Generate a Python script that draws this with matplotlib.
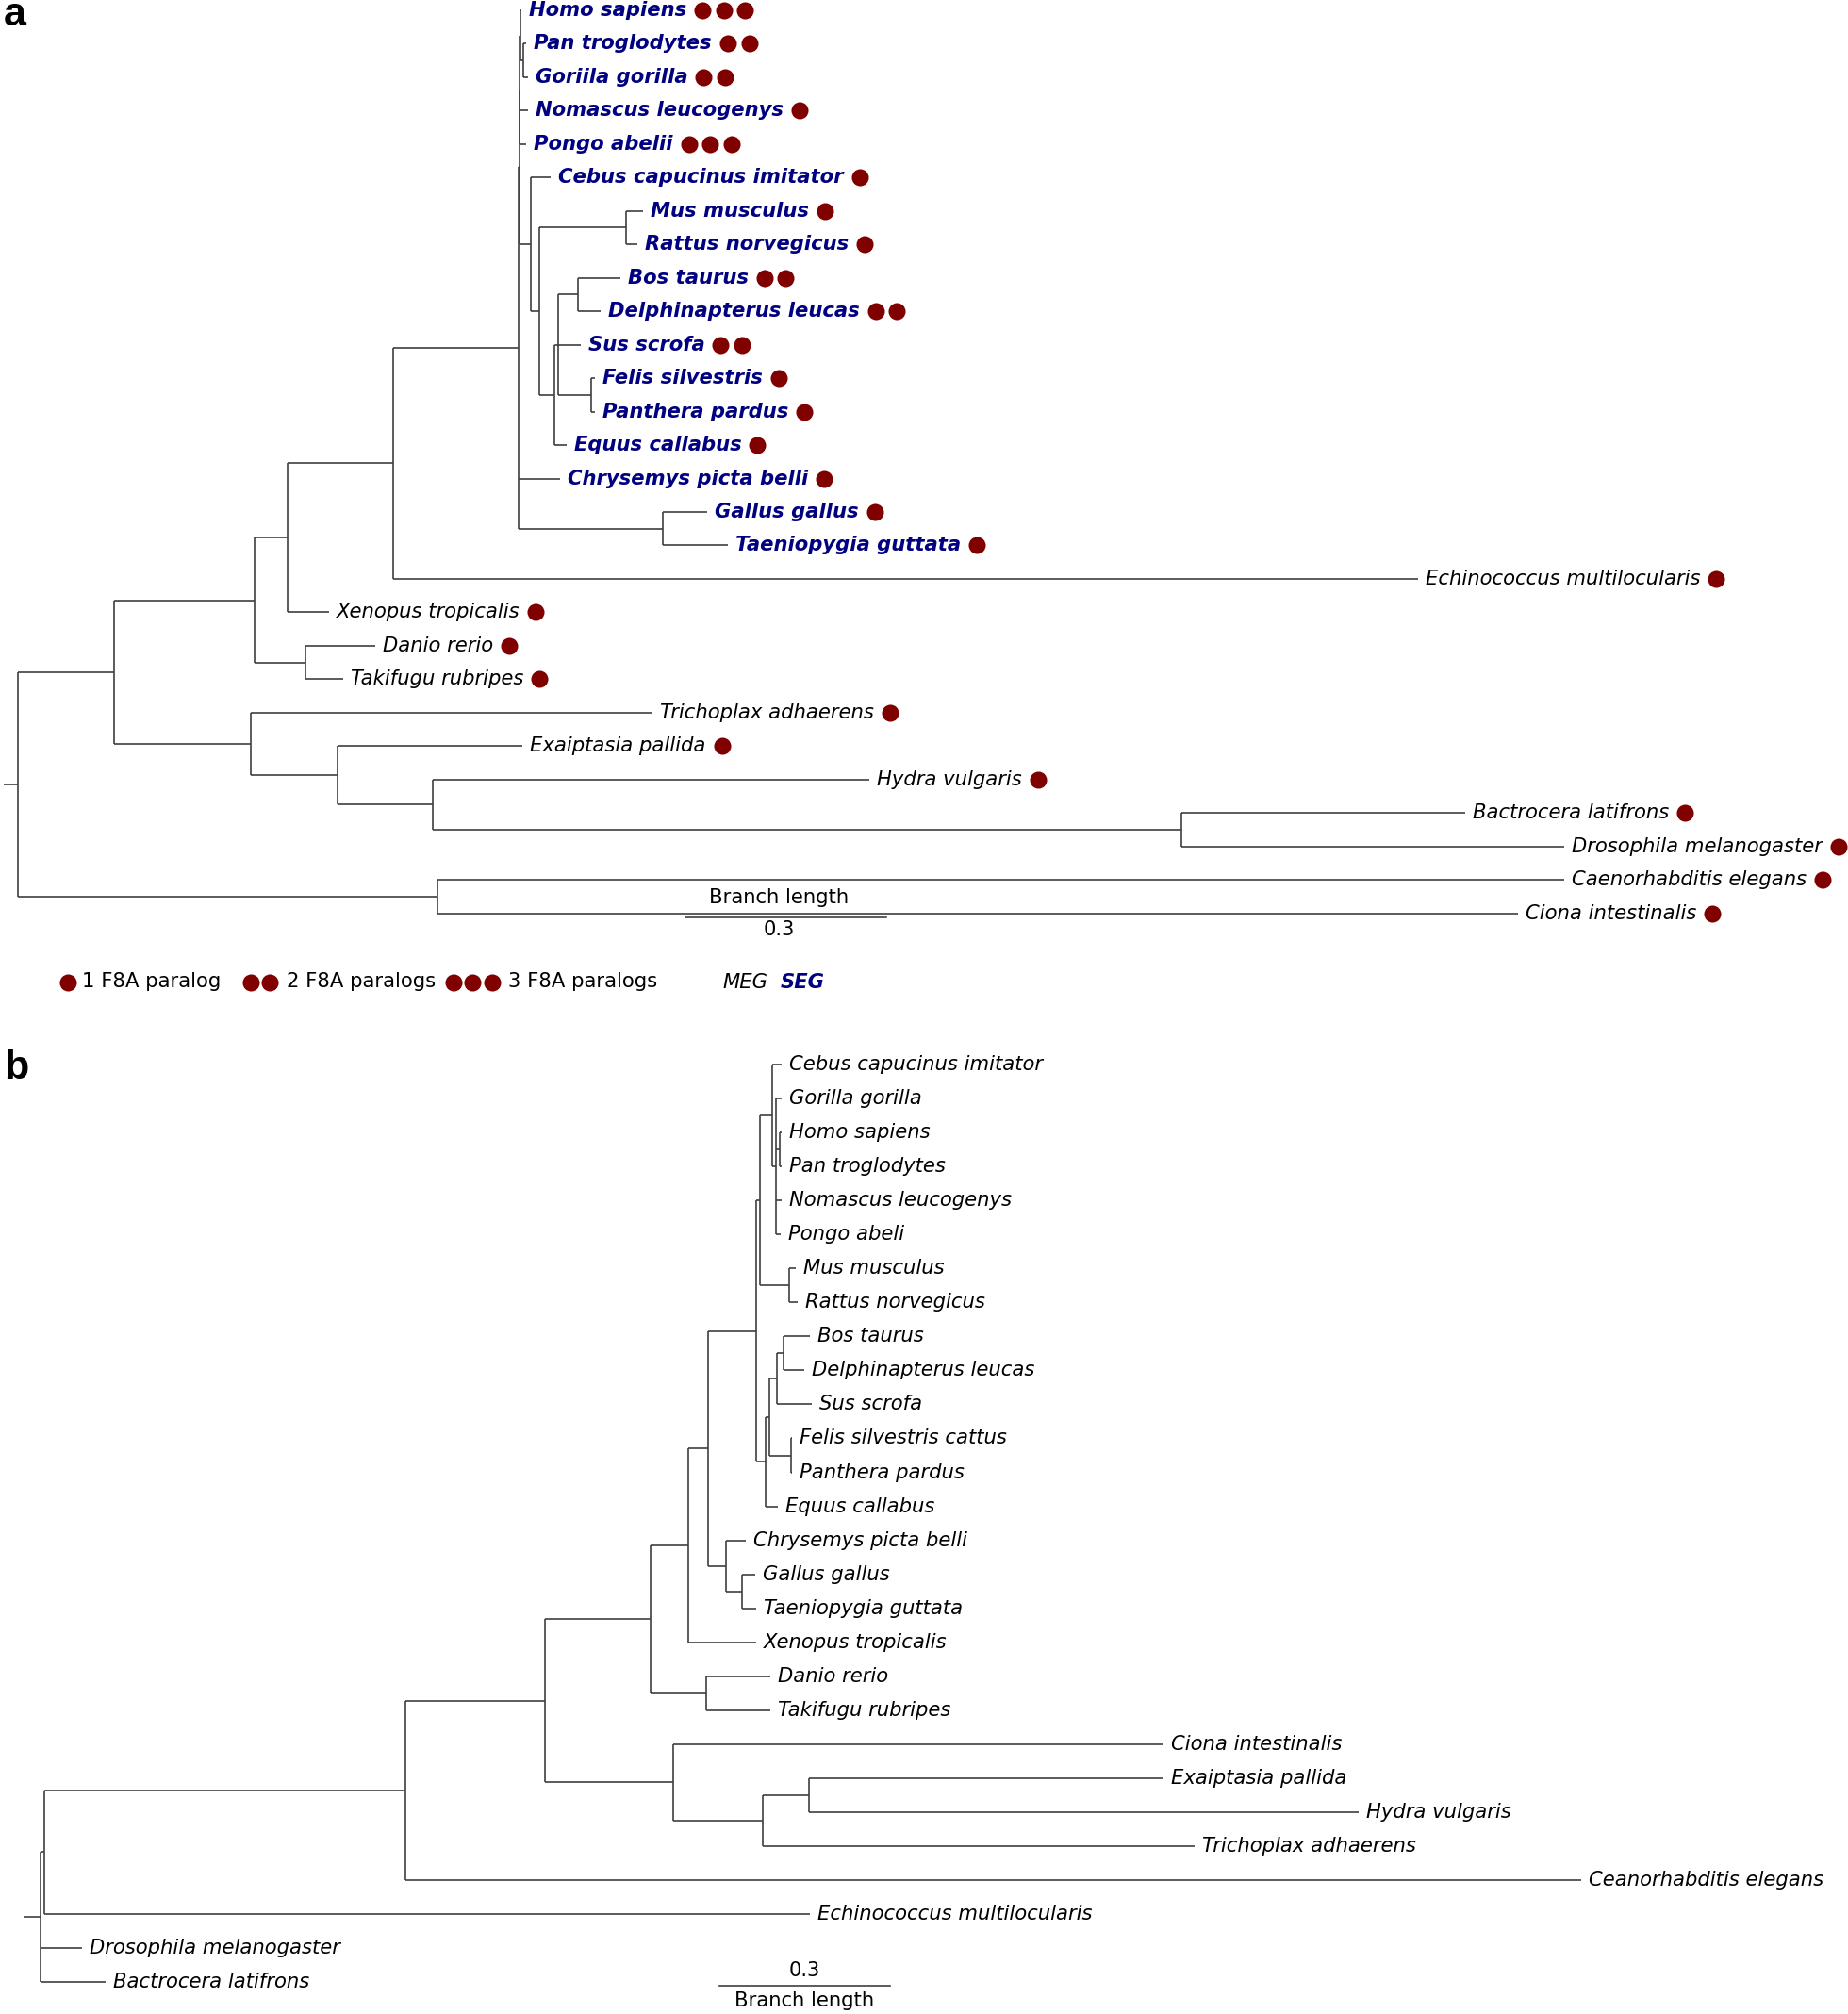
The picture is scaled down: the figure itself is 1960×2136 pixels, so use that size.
import matplotlib
matplotlib.use("Agg")
import matplotlib.pyplot as plt
from matplotlib.collections import LineCollection
from matplotlib.lines import Line2D
from matplotlib.transforms import offset_copy

# ── Panel a: F8A tree (leaves top to bottom) ──────────────────────────────────
A_LEAVES = [
    "Homo sapiens", "Pan troglodytes", "Goriila gorilla", "Nomascus leucogenys",
    "Pongo abelii", "Cebus capucinus imitator", "Mus musculus", "Rattus norvegicus",
    "Bos taurus", "Delphinapterus leucas", "Sus scrofa", "Felis silvestris",
    "Panthera pardus", "Equus callabus", "Chrysemys picta belli", "Gallus gallus",
    "Taeniopygia guttata", "Echinococcus multilocularis", "Xenopus tropicalis",
    "Danio rerio", "Takifugu rubripes", "Trichoplax adhaerens", "Exaiptasia pallida",
    "Hydra vulgaris", "Bactrocera latifrons", "Drosophila melanogaster",
    "Caenorhabditis elegans", "Ciona intestinalis",
]
A_PARALOGS = [3, 2, 2, 1, 3, 1, 1, 1, 2, 2, 2, 1, 1, 1, 1, 1, 1,
              1, 1, 1, 1, 1, 1, 1, 1, 1, 1, 1]
A_SEG = [True] * 17 + [False] * 11

# (child, parent, branch length) – children listed top to bottom
A_BRANCHES = [
    ("a1", "root", 0.1442), ("cc", "root", 0.6288),
    ("b1", "a1", 0.2096), ("e1", "a1", 0.2039),
    ("c1", "b1", 0.0500), ("fish", "b1", 0.0770),
    ("d1", "c1", 0.1577), ("Xenopus tropicalis", "c1", 0.0616),
    ("amniota", "d1", 0.1881), ("Echinococcus multilocularis", "d1", 1.5347),
    ("mammals", "amniota", 0.0008), ("Chrysemys picta belli", "amniota", 0.0619),
    ("birds", "amniota", 0.2158),
    ("apes", "mammals", 0.0011), ("m563", "mammals", 0.0169),
    ("hpg", "apes", 0.0010), ("Nomascus leucogenys", "apes", 0.0120),
    ("Pongo abelii", "apes", 0.0100),
    ("Homo sapiens", "hpg", 0.0013), ("pangor", "hpg", 0.0042),
    ("Pan troglodytes", "pangor", 0.0048), ("Goriila gorilla", "pangor", 0.0068),
    ("Cebus capucinus imitator", "m563", 0.0304), ("m572", "m563", 0.0139),
    ("rodents", "m572", 0.1294), ("laur", "m572", 0.0217),
    ("Mus musculus", "rodents", 0.0250), ("Rattus norvegicus", "rodents", 0.0163),
    ("m434", "laur", 0.0056), ("Equus callabus", "laur", 0.0183),
    ("bosdel", "m434", 0.0300), ("Sus scrofa", "m434", 0.0338),
    ("felids", "m434", 0.0498),
    ("Bos taurus", "bosdel", 0.0634), ("Delphinapterus leucas", "bosdel", 0.0336),
    ("Felis silvestris", "felids", 0.0052), ("Panthera pardus", "felids", 0.0052),
    ("Gallus gallus", "birds", 0.0673), ("Taeniopygia guttata", "birds", 0.0981),
    ("Danio rerio", "fish", 0.1038), ("Takifugu rubripes", "fish", 0.0557),
    ("Trichoplax adhaerens", "e1", 0.6019), ("f1", "e1", 0.1307),
    ("Exaiptasia pallida", "f1", 0.2770), ("g1", "f1", 0.1424),
    ("Hydra vulgaris", "g1", 0.6538), ("flies", "g1", 1.1211),
    ("Bactrocera latifrons", "flies", 0.4250),
    ("Drosophila melanogaster", "flies", 0.5731),
    ("Caenorhabditis elegans", "cc", 1.6866), ("Ciona intestinalis", "cc", 1.6174),
]

# ── Panel b: species tree ─────────────────────────────────────────────────────
B_LEAVES = [
    "Cebus capucinus imitator", "Gorilla gorilla", "Homo sapiens", "Pan troglodytes",
    "Nomascus leucogenys", "Pongo abeli", "Mus musculus", "Rattus norvegicus",
    "Bos taurus", "Delphinapterus leucas", "Sus scrofa", "Felis silvestris cattus",
    "Panthera pardus", "Equus callabus", "Chrysemys picta belli", "Gallus gallus",
    "Taeniopygia guttata", "Xenopus tropicalis", "Danio rerio", "Takifugu rubripes",
    "Ciona intestinalis", "Exaiptasia pallida", "Hydra vulgaris",
    "Trichoplax adhaerens", "Ceanorhabditis elegans", "Echinococcus multilocularis",
    "Drosophila melanogaster", "Bactrocera latifrons",
]

B_BRANCHES = [
    ("n34", "root", 0.0063), ("Drosophila melanogaster", "root", 0.0734),
    ("Bactrocera latifrons", "root", 0.1140),
    ("n316", "n34", 0.6338), ("Echinococcus multilocularis", "n34", 1.3442),
    ("n424", "n316", 0.2455), ("Ceanorhabditis elegans", "n316", 2.0617),
    ("n507", "n424", 0.1847), ("n524", "n424", 0.2248),
    ("n536", "n507", 0.0662), ("fish", "n507", 0.0977),
    ("n551", "n536", 0.0338), ("Xenopus tropicalis", "n536", 0.1194),
    ("mammals", "n551", 0.0847), ("sauropsids", "n551", 0.0322),
    ("euarch", "mammals", 0.0065), ("laur", "mammals", 0.0166),
    ("primates", "euarch", 0.0225), ("rodents", "euarch", 0.0518),
    ("Cebus capucinus imitator", "primates", 0.0169), ("apes", "primates", 0.0068),
    ("Gorilla gorilla", "apes", 0.0101), ("homopan", "apes", 0.0056),
    ("Nomascus leucogenys", "apes", 0.0101), ("Pongo abeli", "apes", 0.0078),
    ("Homo sapiens", "homopan", 0.0045), ("Pan troglodytes", "homopan", 0.0045),
    ("Mus musculus", "rodents", 0.0124), ("Rattus norvegicus", "rodents", 0.0146),
    ("l599", "laur", 0.0068), ("Equus callabus", "laur", 0.0225),
    ("l605", "l599", 0.0135), ("felids", "l599", 0.0383),
    ("bosdel", "l605", 0.0113), ("Sus scrofa", "l605", 0.0608),
    ("Bos taurus", "bosdel", 0.0473), ("Delphinapterus leucas", "bosdel", 0.0360),
    ("Felis silvestris cattus", "felids", 0.0022), ("Panthera pardus", "felids", 0.0022),
    ("Chrysemys picta belli", "sauropsids", 0.0353), ("birds", "sauropsids", 0.0286),
    ("Gallus gallus", "birds", 0.0225), ("Taeniopygia guttata", "birds", 0.0248),
    ("Danio rerio", "fish", 0.1126), ("Takifugu rubripes", "fish", 0.1126),
    ("Ciona intestinalis", "n524", 0.8594), ("n594", "n524", 0.1563),
    ("n630", "n594", 0.0810), ("Trichoplax adhaerens", "n594", 0.7572),
    ("Exaiptasia pallida", "n630", 0.6221), ("Hydra vulgaris", "n630", 0.9645),
]

SCALE_LEN = 0.3

# ── Style ─────────────────────────────────────────────────────────────────────
LINE_COL = "#404040"
NAVY     = "#000080"
DOT_COL  = "#800000"
FS       = 7.6
DOT_MS   = 6.5

plt.rcParams["font.family"] = ["DejaVu Sans"]

W, H = 1439, 1568        # reference layout grid (px)
SPLIT = 790              # boundary between panels


def layout(branches, leaves):
    children, length = {}, {}
    for child, parent, bl in branches:
        children.setdefault(parent, []).append(child)
        length[child] = bl
    x, y = {"root": 0.0}, {}

    def walk(node):
        for c in children.get(node, []):
            x[c] = x[node] + length[c]
            walk(c)
        if node in children:
            kids = children[node]
            y[node] = (y[kids[0]] + y[kids[-1]]) / 2
        else:
            y[node] = leaves.index(node)

    walk("root")
    return children, x, y


def draw_tree(ax, branches, leaves, stub):
    children, x, y = layout(branches, leaves)
    segs = [[(-stub, y["root"]), (0, y["root"])]]
    for node, kids in children.items():
        segs.append([(x[node], y[kids[0]]), (x[node], y[kids[-1]])])
        for c in kids:
            segs.append([(x[node], y[c]), (x[c], y[c])])
    ax.add_collection(LineCollection(segs, colors=LINE_COL, linewidths=0.6,
                                     capstyle="butt"))
    return x, y


def make_axes(fig, top, bottom, root_px, px_per_unit, first_px, step_px):
    ax = fig.add_axes([0, 1 - bottom / H, 1, (bottom - top) / H])
    ax.set_xlim(-root_px / px_per_unit, (W - root_px) / px_per_unit)
    ax.set_ylim((bottom - first_px) / step_px, (top - first_px) / step_px)
    ax.axis("off")
    return ax


fig = plt.figure(figsize=(9.8, 10.68), dpi=200)

ax_a = make_axes(fig, 0, SPLIT, 14, 520, 8, 26.04)
ax_b = make_axes(fig, SPLIT, H, 31.4, 444, 829, 26.44)

# ── Panel a ───────────────────────────────────────────────────────────────────
xa, ya = draw_tree(ax_a, A_BRANCHES, A_LEAVES, stub=11 / 520)
lab_tr_a = offset_copy(ax_a.transData, fig=fig, x=8, y=0, units="dots")
a_texts = []
for name, seg in zip(A_LEAVES, A_SEG):
    t = ax_a.text(xa[name], ya[name], name, transform=lab_tr_a, fontsize=FS,
                  style="italic", va="center", ha="left",
                  color=NAVY if seg else "black",
                  fontweight="bold" if seg else "normal")
    a_texts.append(t)

# scale bar a
sb_x0 = 1.0
ax_a.plot([sb_x0, sb_x0 + SCALE_LEN], [27.11, 27.11], color=LINE_COL, lw=0.6)
ax_a.text(sb_x0 + SCALE_LEN / 2 - 0.01, 26.54, "Branch length", fontsize=FS,
          ha="center", va="center")
ax_a.text(sb_x0 + SCALE_LEN / 2 - 0.01, 27.5, "0.3", fontsize=FS,
          ha="center", va="center")

# ── Panel b ───────────────────────────────────────────────────────────────────
xb, yb = draw_tree(ax_b, B_BRANCHES, B_LEAVES, stub=13 / 444)
lab_tr_b = offset_copy(ax_b.transData, fig=fig, x=8, y=0, units="dots")
for name in B_LEAVES:
    ax_b.text(xb[name], yb[name], name, transform=lab_tr_b, fontsize=FS,
              style="italic", va="center", ha="left")

sb_x0 = (560 - 31.4) / 444
ax_b.plot([sb_x0, sb_x0 + SCALE_LEN], [27.12, 27.12], color=LINE_COL, lw=0.6)
ax_b.text(sb_x0 + SCALE_LEN / 2, 26.68, "0.3", fontsize=FS, ha="center", va="center")
ax_b.text(sb_x0 + SCALE_LEN / 2, 27.55, "Branch length", fontsize=FS,
          ha="center", va="center")

# ── Paralog dots after labels (need rendered text extents) ────────────────────
fig.canvas.draw()
renderer = fig.canvas.get_renderer()
inv = ax_a.transData.inverted()
for t, name, n in zip(a_texts, A_LEAVES, A_PARALOGS):
    bb = t.get_window_extent(renderer)
    yd = ax_a.transData.transform((0, ya[name]))[1]
    pts = [inv.transform((bb.x1 + 17 + 22.5 * k, yd)) for k in range(n)]
    ax_a.plot([p[0] for p in pts], [p[1] for p in pts], "o", ms=DOT_MS,
              color=DOT_COL, mec="none", clip_on=False)

# ── Legend row ────────────────────────────────────────────────────────────────
leg_y = 1 - 765 / H
for group in ([53], [195, 210], [353, 368, 383]):
    fig.add_artist(Line2D([gx / W for gx in group], [leg_y] * len(group),
                          transform=fig.transFigure, ls="none", marker="o",
                          ms=DOT_MS, color=DOT_COL, mec="none"))
for lx, txt in [(64, "1 F8A paralog"), (223, "2 F8A paralogs"), (396, "3 F8A paralogs")]:
    fig.text(lx / W, leg_y + 0.0007, txt, fontsize=FS, ha="left", va="center")
fig.text(563 / W, leg_y, "MEG", fontsize=FS, style="italic", ha="left", va="center")
fig.text(608 / W, leg_y, "SEG", fontsize=FS, style="italic", fontweight="bold",
         color=NAVY, ha="left", va="center")

# ── Panel letters ─────────────────────────────────────────────────────────────
for ly, letter in [(12, "a"), (832, "b")]:
    fig.text(3 / W, 1 - ly / H, letter, fontsize=15.5, fontweight="bold",
             family=["Liberation Sans", "DejaVu Sans"], ha="left", va="center")

fig.savefig("out.png", dpi=200, facecolor="white")
